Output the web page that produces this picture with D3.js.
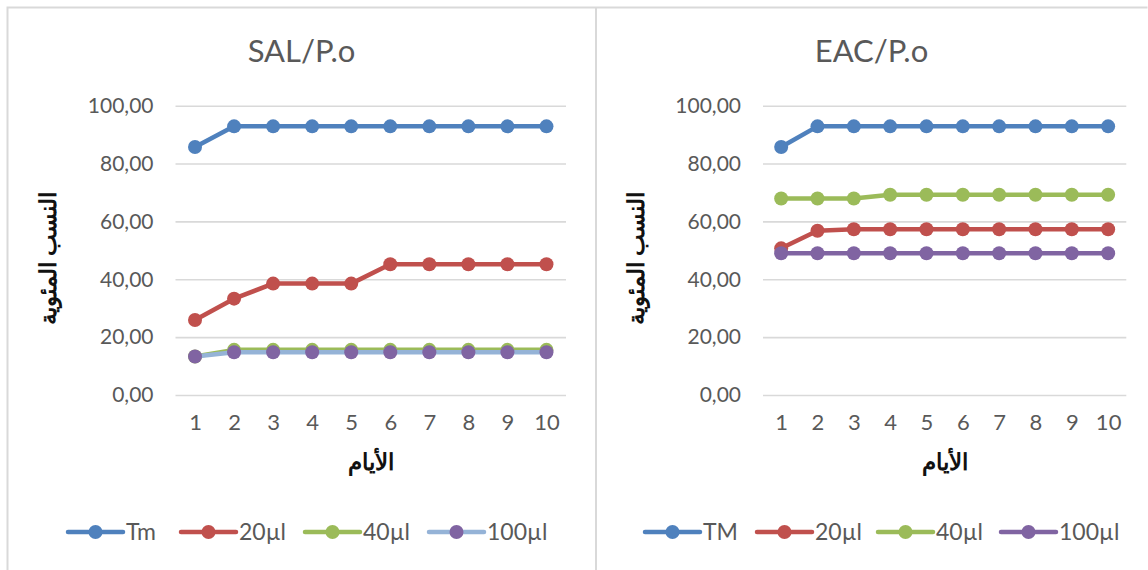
<!DOCTYPE html>
<html>
<head>
<meta charset="utf-8">
<script src="https://cdn.jsdelivr.net/npm/d3@7"></script>
<style>
  html, body { margin: 0; padding: 0; background: #ffffff; }
  svg { display: block; }
  text { font-family: Lato, "Open Sans", sans-serif; }
</style>
</head>
<body>
<svg id="chart" width="1148" height="570"></svg>
<script>
// Days on the x axis
const days = [1, 2, 3, 4, 5, 6, 7, 8, 9, 10];
const yTicks = [0, 20, 40, 60, 80, 100];

// SAL/P.o series (percent)
const salTm   = [85.71, 92.86, 92.86, 92.86, 92.86, 92.86, 92.86, 92.86, 92.86, 92.86];
const sal20   = [25.9, 33.3, 38.5, 38.5, 38.5, 45.2, 45.2, 45.2, 45.2, 45.2];
const sal40   = [13.3, 15.6, 15.6, 15.6, 15.6, 15.6, 15.6, 15.6, 15.6, 15.6];
const sal100  = [13.3, 14.8, 14.8, 14.8, 14.8, 14.8, 14.8, 14.8, 14.8, 14.8];

// EAC/P.o series (percent)
const eacTm   = [85.71, 92.86, 92.86, 92.86, 92.86, 92.86, 92.86, 92.86, 92.86, 92.86];
const eac20   = [50.7, 56.8, 57.3, 57.3, 57.3, 57.3, 57.3, 57.3, 57.3, 57.3];
const eac40   = [67.9, 67.9, 67.9, 69.2, 69.2, 69.2, 69.2, 69.2, 69.2, 69.2];
const eac100  = [49.0, 49.0, 49.0, 49.0, 49.0, 49.0, 49.0, 49.0, 49.0, 49.0];

const salNames = ["Tm", "20µl", "40µl", "100µl"];
const eacNames = ["TM", "20µl", "40µl", "100µl"];

const yTitle = "النسب المئوية";
const xTitle = "الأيام";

const BLUE = "#4f81bd", RED = "#c0504d", GREEN = "#9bbb59", PURPLE = "#8064a2", LIGHTBLUE = "#95b3d7";
const TEXT = "#595959", GRID = "#d9d9d9";

const svg = d3.select("#chart");

// Panel frames
svg.append("path")
  .attr("d", "M7.5,570 V7.5 H1147.5 M596,7.5 V570")
  .attr("fill", "none").attr("stroke", GRID).attr("stroke-width", 2);

function drawPanel(cfg) {
  const g = svg.append("g");
  const top = 105.7, bottom = 395;

  const x = d3.scalePoint().domain(days).range([cfg.left, cfg.right]).padding(0.5);
  const y = d3.scaleLinear().domain([0, 100]).range([bottom, top]);

  // Title
  g.append("text")
    .attr("x", cfg.center).attr("y", 62)
    .attr("text-anchor", "middle")
    .attr("fill", TEXT).attr("font-size", 31)
    .text(cfg.title);

  // Y axis with gridlines
  const yAxis = g.append("g")
    .attr("transform", `translate(${cfg.left},0)`)
    .call(d3.axisLeft(y).tickValues(yTicks)
      .tickSize(-(cfg.right - cfg.left))
      .tickPadding(22)
      .tickFormat(d => d3.format(".2f")(d).replace(".", ",")));
  yAxis.select(".domain").remove();
  yAxis.selectAll("line").attr("stroke", GRID).attr("stroke-width", 1.6);
  yAxis.selectAll("text").attr("fill", TEXT).attr("font-size", 21)
    .attr("font-family", "Lato, sans-serif");

  // X axis labels
  const xAxis = g.append("g")
    .attr("transform", `translate(0,${bottom})`)
    .call(d3.axisBottom(x).tickSize(0).tickPadding(19));
  xAxis.select(".domain").remove();
  xAxis.selectAll("text").attr("fill", TEXT).attr("font-size", 22)
    .attr("font-family", "Lato, sans-serif");

  // Axis titles
  g.append("text")
    .attr("x", (cfg.left + cfg.right) / 2).attr("y", 470)
    .attr("text-anchor", "middle").attr("font-weight", "bold")
    .attr("font-family", "DejaVu Sans, sans-serif")
    .attr("font-size", 23).attr("fill", "#111")
    .text(xTitle);
  g.append("text")
    .attr("transform", `translate(${cfg.yTitleX},${(top + bottom) / 2 + 8}) rotate(-90)`)
    .attr("text-anchor", "middle").attr("font-weight", "bold")
    .attr("font-family", "DejaVu Sans, sans-serif")
    .attr("font-size", 23).attr("fill", "#111")
    .text(yTitle);

  // Series
  const line = d3.line().x((d, i) => x(days[i])).y(d => y(d));
  cfg.series.forEach(s => {
    g.append("path").datum(s.values)
      .attr("d", line)
      .attr("fill", "none").attr("stroke", s.line)
      .attr("stroke-width", 4.5).attr("stroke-linejoin", "round");
    g.selectAll(null).data(s.values).enter().append("circle")
      .attr("cx", (d, i) => x(days[i])).attr("cy", d => y(d))
      .attr("r", 7).attr("fill", s.marker);
  });

  // Legend
  const lg = g.append("g");
  cfg.series.forEach((s, i) => {
    const x0 = cfg.legendX[i];
    lg.append("line")
      .attr("x1", x0).attr("x2", x0 + 55)
      .attr("y1", 532).attr("y2", 532)
      .attr("stroke", s.line).attr("stroke-width", 4.5).attr("stroke-linecap", "round");
    lg.append("circle").attr("cx", x0 + 27.5).attr("cy", 532).attr("r", 7).attr("fill", s.marker);
    lg.append("text")
      .attr("x", x0 + 58).attr("y", 540)
      .attr("fill", TEXT).attr("font-size", 23)
      .text(s.name);
  });
}

drawPanel({
  title: "SAL/P.o",
  center: 301.5,
  left: 175.5, right: 566,
  yTitleX: 56,
  legendX: [68, 181, 305, 429],
  series: [
    { name: salNames[0], values: salTm,  line: BLUE,      marker: BLUE },
    { name: salNames[1], values: sal20,  line: RED,       marker: RED },
    { name: salNames[2], values: sal40,  line: GREEN,     marker: GREEN },
    { name: salNames[3], values: sal100, line: LIGHTBLUE, marker: PURPLE }
  ]
});

drawPanel({
  title: "EAC/P.o",
  center: 871.5,
  left: 763, right: 1126.3,
  yTitleX: 644,
  legendX: [645, 757, 878, 1001],
  series: [
    { name: eacNames[0], values: eacTm,  line: BLUE,   marker: BLUE },
    { name: eacNames[1], values: eac20,  line: RED,    marker: RED },
    { name: eacNames[2], values: eac40,  line: GREEN,  marker: GREEN },
    { name: eacNames[3], values: eac100, line: PURPLE, marker: PURPLE }
  ]
});
</script>
</body>
</html>
